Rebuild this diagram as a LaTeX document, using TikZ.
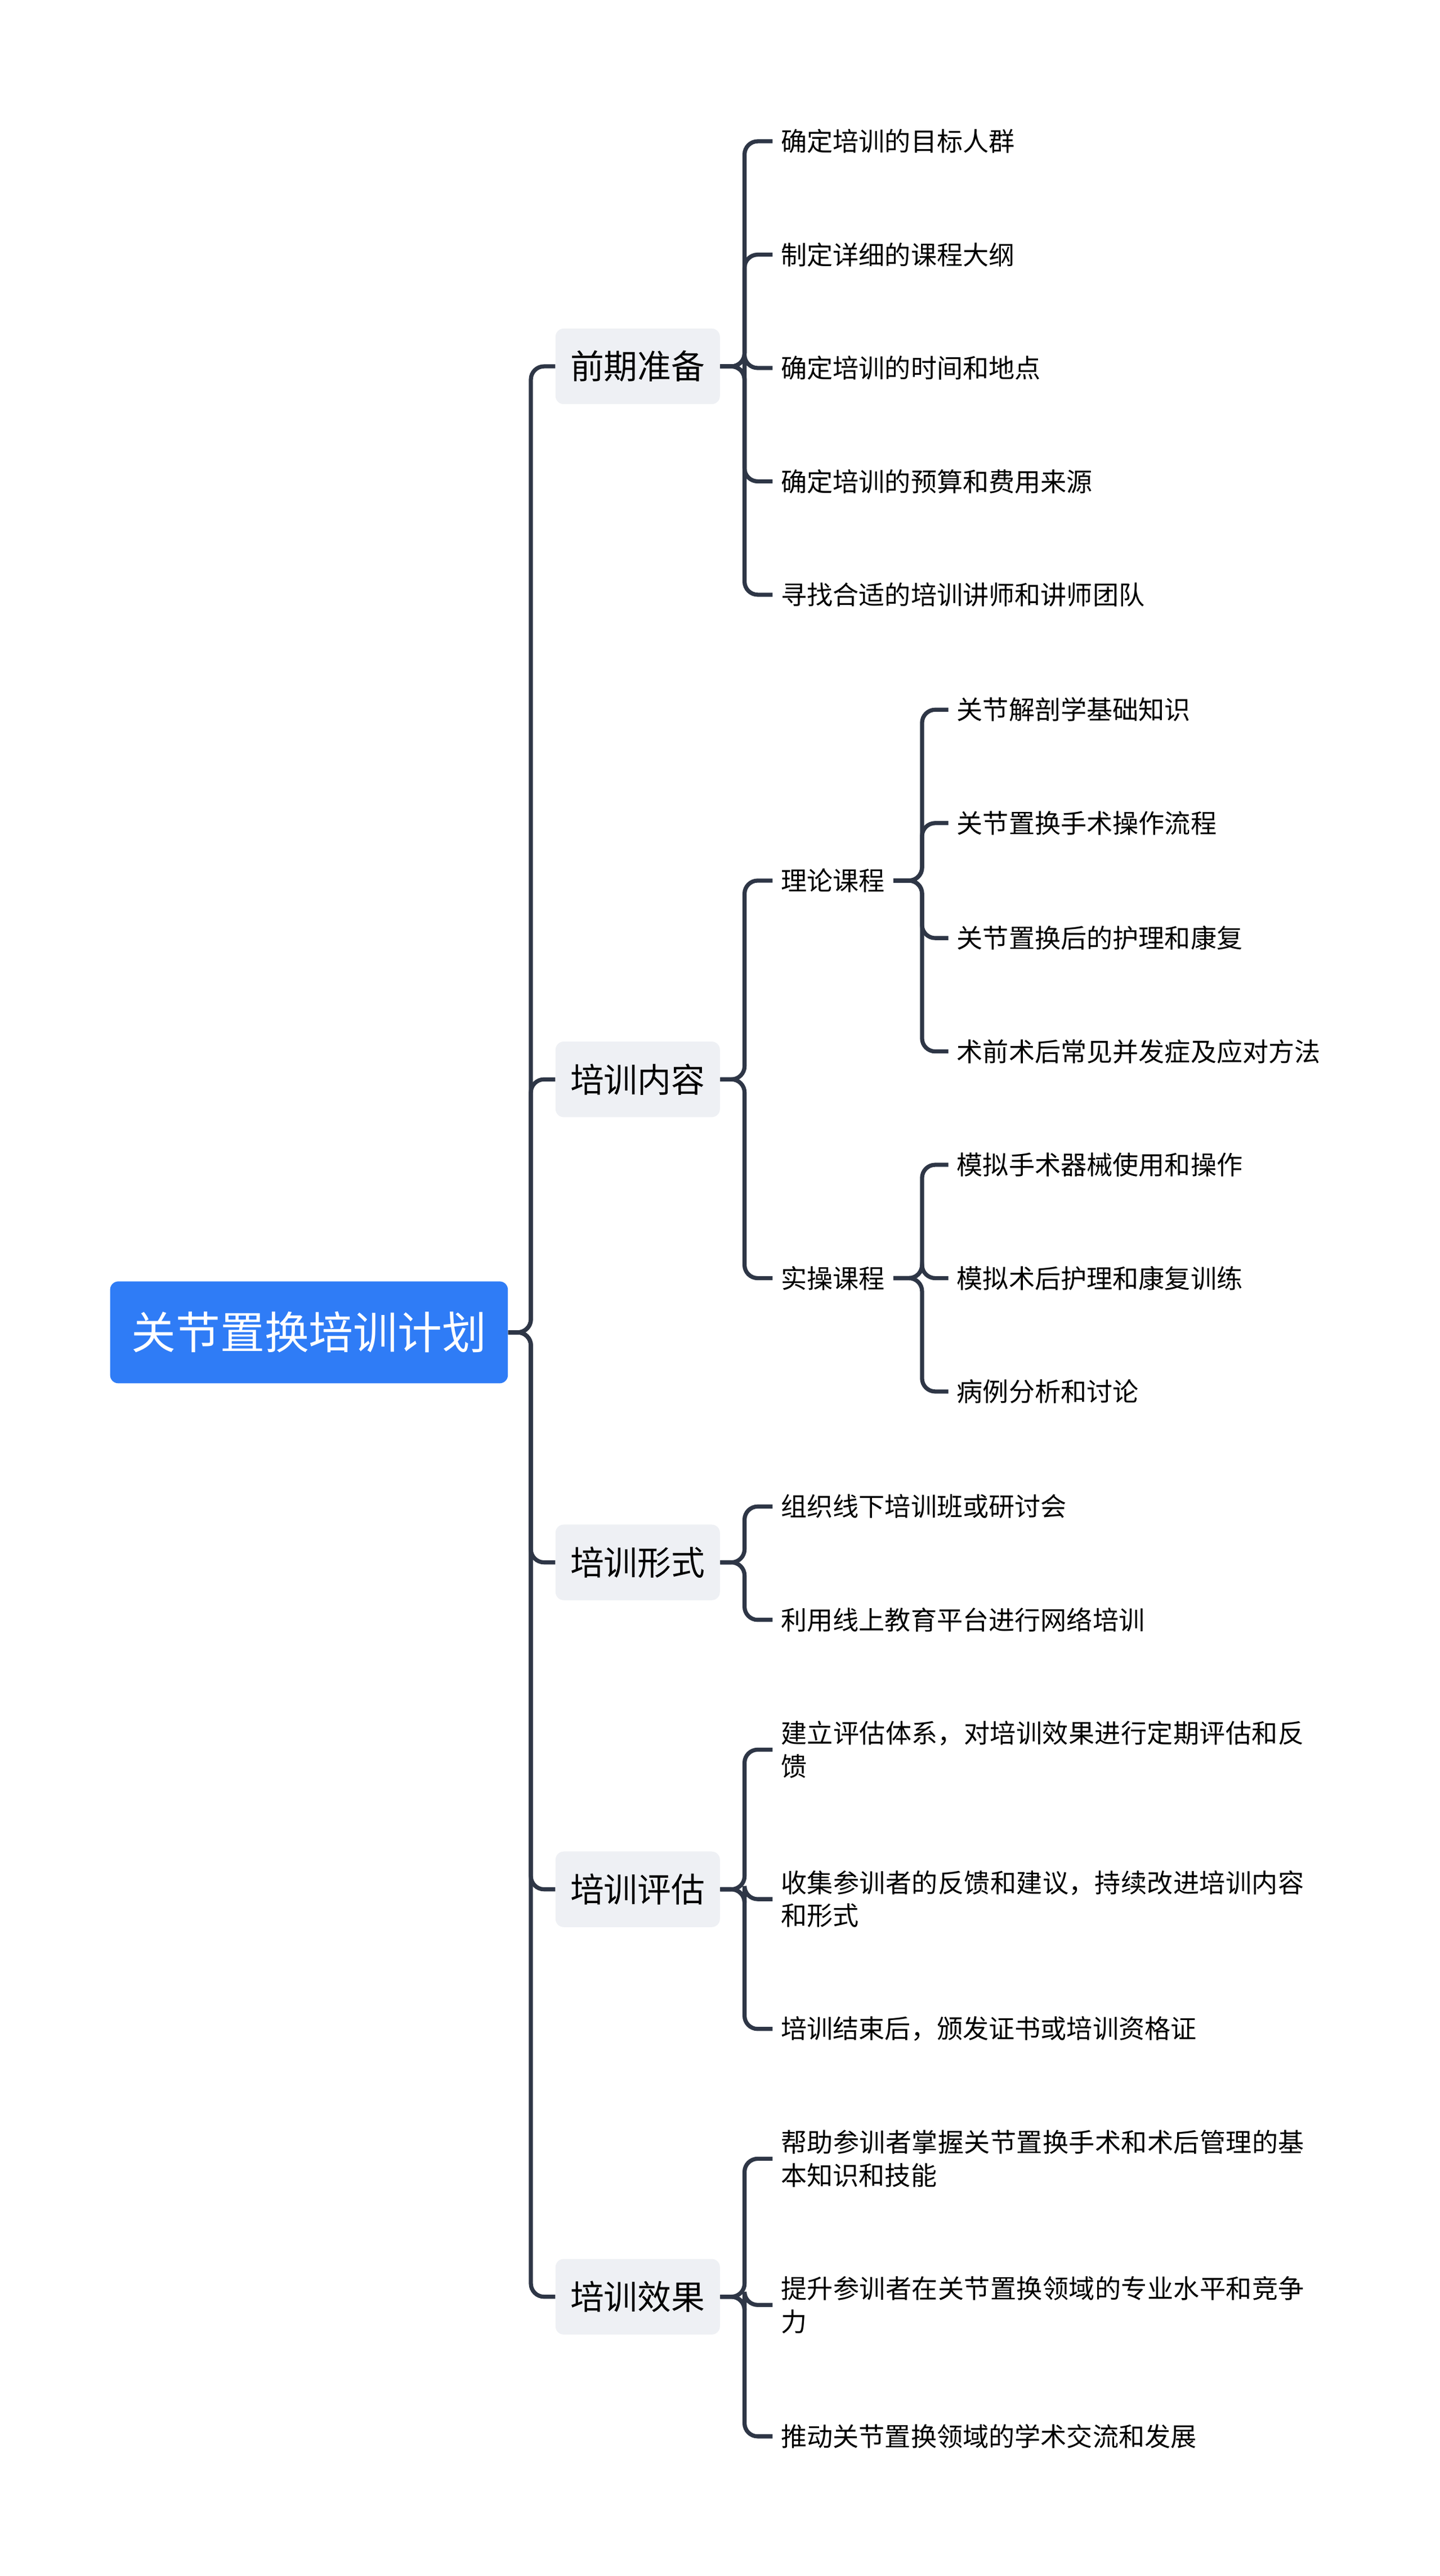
\documentclass[tikz,border=0pt]{standalone}
\usepackage{fontspec}
\setmainfont{Noto Sans CJK SC}
\XeTeXlinebreaklocale "zh"
\XeTeXlinebreakskip=0pt plus 1pt
\usetikzlibrary{positioning}
\definecolor{rootblue}{HTML}{2F7CF6}
\definecolor{topicgray}{HTML}{EEF0F4}
\definecolor{linkgray}{HTML}{2E3646}
\tikzset{
  rootbox/.style={fill=rootblue,rounded corners=5pt,text=white,font=\fontsize{27}{30}\selectfont,minimum width=242pt,minimum height=62pt},
  topicbox/.style={fill=topicgray,rounded corners=5pt,text=black,font=\fontsize{20.5}{24}\selectfont,minimum width=100pt,minimum height=46pt},
  leaf/.style={anchor=west,inner sep=5pt,font=\fontsize{15.8}{20}\selectfont,align=left},
  wideleaf/.style={leaf,text width=322pt},
  link/.style={draw=linkgray,line width=2.5pt,rounded corners=8pt}
}
\begin{document}
\begin{tikzpicture}[x=1pt,y=-1pt]
  \fill[white] (0,0) rectangle (876,1568);
  % root and topics
  \node[rootbox] (root) at (188,811) {关节置换培训计划};
  \node[topicbox] (prep) at (388,223) {前期准备};
  \node[topicbox] (cont) at (388,657) {培训内容};
  \node[topicbox] (form) at (388,951) {培训形式};
  \node[topicbox] (eval) at (388,1150) {培训评估};
  \node[topicbox] (effe) at (388,1398) {培训效果};
  % 前期准备
  \node[leaf] (p1) at (470,86) {确定培训的目标人群};
  \node[leaf] (p2) at (470,155) {制定详细的课程大纲};
  \node[leaf] (p3) at (470,224) {确定培训的时间和地点};
  \node[leaf] (p4) at (470,293) {确定培训的预算和费用来源};
  \node[leaf] (p5) at (470,362) {寻找合适的培训讲师和讲师团队};
  % 培训内容
  \node[leaf] (theo) at (470,536) {理论课程};
  \node[leaf] (prac) at (470,778) {实操课程};
  \node[leaf] (t1) at (577,432) {关节解剖学基础知识};
  \node[leaf] (t2) at (577,501) {关节置换手术操作流程};
  \node[leaf] (t3) at (577,571) {关节置换后的护理和康复};
  \node[leaf] (t4) at (577,640) {术前术后常见并发症及应对方法};
  \node[leaf] (s1) at (577,709) {模拟手术器械使用和操作};
  \node[leaf] (s2) at (577,778) {模拟术后护理和康复训练};
  \node[leaf] (s3) at (577,847) {病例分析和讨论};
  % 培训形式
  \node[leaf] (f1) at (470,917) {组织线下培训班或研讨会};
  \node[leaf] (f2) at (470,986) {利用线上教育平台进行网络培训};
  % 培训评估
  \node[wideleaf] (e1) at (470,1065) {建立评估体系，对培训效果进行定期评估和反馈};
  \node[wideleaf] (e2) at (470,1156) {收集参训者的反馈和建议，持续改进培训内容和形式};
  \node[leaf] (e3) at (470,1235) {培训结束后，颁发证书或培训资格证};
  % 培训效果
  \node[wideleaf] (r1) at (470,1314) {帮助参训者掌握关节置换手术和术后管理的基本知识和技能};
  \node[wideleaf] (r2) at (470,1403) {提升参训者在关节置换领域的专业水平和竞争力};
  \node[leaf] (r3) at (470,1483) {推动关节置换领域的学术交流和发展};
  % connectors
  \foreach \t in {prep,cont,form,eval,effe}
    \draw[link] (root.east) -- (323,811) |- (\t.west);
  \foreach \c in {p1,p2,p3,p4,p5}
    \draw[link] (prep.east) -- (453,223) |- (\c.west);
  \foreach \c in {theo,prac}
    \draw[link] (cont.east) -- (453,657) |- (\c.west);
  \foreach \c in {t1,t2,t3,t4}
    \draw[link] (theo.east) -- (561,536) |- (\c.west);
  \foreach \c in {s1,s2,s3}
    \draw[link] (prac.east) -- (561,778) |- (\c.west);
  \foreach \c in {f1,f2}
    \draw[link] (form.east) -- (453,951) |- (\c.west);
  \foreach \c in {e1,e2,e3}
    \draw[link] (eval.east) -- (453,1150) |- (\c.west);
  \foreach \c in {r1,r2,r3}
    \draw[link] (effe.east) -- (453,1398) |- (\c.west);
\end{tikzpicture}
\end{document}
